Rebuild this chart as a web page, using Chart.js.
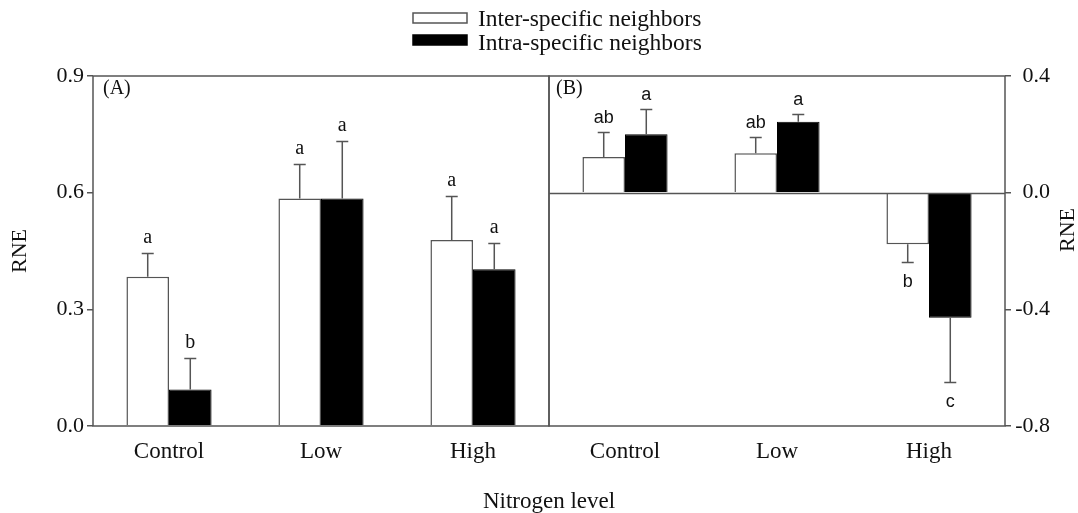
<!DOCTYPE html>
<html>
<head>
<meta charset="utf-8">
<title>RNE by nitrogen level</title>
<script src="https://cdn.jsdelivr.net/npm/chart.js@4.4.1/dist/chart.umd.min.js"></script>
<style>
  html, body { margin: 0; padding: 0; background: #fff; }
  #wrap { position: relative; width: 1078px; height: 513px; }
  #wrap canvas { position: absolute; left: 0; top: 0; }
</style>
</head>
<body>
<div id="wrap">
  <canvas id="chartA" width="1078" height="513"></canvas>
  <canvas id="chartB" width="1078" height="513"></canvas>
</div>
<script>
// --- Data ---
const categories = ['Control', 'Low', 'High'];
const seriesNames = ['Inter-specific neighbors', 'Intra-specific neighbors'];

// panel A
const interA = [0.384, 0.585, 0.478];
const interAErr = [0.061, 0.090, 0.113];
const intraA = [0.094, 0.585, 0.403];
const intraAErr = [0.080, 0.148, 0.067];
const interALetters = ['a', 'a', 'a'];
const intraALetters = ['b', 'a', 'a'];
const ticksA = [0, 0.3, 0.6, 0.9];

// panel B
const interB = [0.122, 0.135, -0.177];
const interBErr = [0.087, 0.057, 0.062];
const intraB = [0.200, 0.243, -0.429];
const intraBErr = [0.087, 0.027, 0.221];
const interBLetters = ['ab', 'ab', 'b'];
const intraBLetters = ['a', 'a', 'c'];
const ticksB = [-0.8, -0.4, 0, 0.4];

// --- Look ---
const SERIF = "'Liberation Serif', 'Times New Roman', serif";
const SANS = "'Liberation Sans', Arial, sans-serif";
const LINE = '#555';
const INK = '#111';
const W = 1078;
const MID = 549;      // shared border between the panels
const TOP = 76;
const XAXIS_H = 87;

// error bars, letters, frame, panel tag
const panelPlugin = {
  id: 'panel',
  afterDatasetsDraw(chart, args, opts) {
    const { ctx, chartArea: a, scales: { y } } = chart;
    ctx.save();
    ctx.strokeStyle = LINE;
    ctx.lineWidth = 1.5;

    if (opts.zeroLine) {
      const y0 = Math.round(y.getPixelForValue(0)) + 0.5;
      ctx.beginPath(); ctx.moveTo(a.left, y0); ctx.lineTo(a.right, y0); ctx.stroke();
    }

    chart.data.datasets.forEach((ds, i) => {
      chart.getDatasetMeta(i).data.forEach((bar, j) => {
        const v = ds.data[j];
        const end = v >= 0 ? v + ds.errors[j] : v - ds.errors[j];
        const y0 = y.getPixelForValue(v);
        const y1 = Math.round(y.getPixelForValue(end)) + 0.5;
        ctx.beginPath();
        ctx.moveTo(bar.x, y0); ctx.lineTo(bar.x, y1);
        ctx.moveTo(bar.x - 6, y1); ctx.lineTo(bar.x + 6, y1);
        ctx.stroke();

        ctx.fillStyle = INK;
        ctx.font = opts.letterFont;
        ctx.textAlign = 'center';
        ctx.textBaseline = 'alphabetic';
        ctx.fillText(ds.letters[j], bar.x, v >= 0 ? y1 - opts.gapAbove : y1 + opts.gapBelow);
      });
    });

    ctx.strokeRect(a.left, a.top, a.width, a.height);

    ctx.fillStyle = INK;
    ctx.font = `20px ${SERIF}`;
    ctx.textAlign = 'left';
    ctx.fillText(opts.tag, a.left + opts.tagDx, a.top + opts.tagDy);
    ctx.restore();
  }
};

// legend + shared x title, drawn once on panel A's canvas
const sharedPlugin = {
  id: 'shared',
  afterDraw(chart) {
    const { ctx } = chart;
    ctx.save();
    ctx.lineWidth = 1.5;
    chart.data.datasets.forEach((ds, i) => {
      const top = 13 + i * 22;
      ctx.fillStyle = ds.backgroundColor;
      ctx.strokeStyle = ds.borderColor;
      ctx.fillRect(413, top, 54, 10);
      ctx.strokeRect(413, top, 54, 10);
      ctx.fillStyle = INK;
      ctx.font = `23.5px ${SERIF}`;
      ctx.textAlign = 'left';
      ctx.textBaseline = 'alphabetic';
      ctx.fillText(ds.label, 478, 26 + i * 24);
    });
    ctx.font = `23px ${SERIF}`;
    ctx.textAlign = 'center';
    ctx.fillText('Nitrogen level', MID, 508);
    ctx.restore();
  }
};

// right-hand axis title, reading bottom to top like the left one
const rightTitlePlugin = {
  id: 'rightTitle',
  afterDraw(chart) {
    const { ctx } = chart;
    ctx.save();
    ctx.translate(1068, 230);
    ctx.rotate(-Math.PI / 2);
    ctx.fillStyle = INK;
    ctx.font = `22px ${SERIF}`;
    ctx.textAlign = 'center';
    ctx.textBaseline = 'middle';
    ctx.fillText('RNE', 0, 0);
    ctx.restore();
  }
};

function barSets(inter, interErr, interLet, intra, intraErr, intraLet) {
  return [
    { label: seriesNames[0], data: inter, errors: interErr, letters: interLet,
      backgroundColor: '#fff', borderColor: LINE, borderWidth: 1.5 },
    { label: seriesNames[1], data: intra, errors: intraErr, letters: intraLet,
      backgroundColor: '#000', borderColor: '#000', borderWidth: 1 }
  ];
}

function xScale() {
  return {
    grid: { display: false, drawTicks: false },
    border: { display: false },
    ticks: { color: INK, font: { family: SERIF, size: 23 }, padding: 12, maxRotation: 0 },
    afterFit: s => { s.height = XAXIS_H; }
  };
}

function yScale(min, max, tickValues, extra) {
  return Object.assign({
    min: min,
    max: max,
    afterBuildTicks: s => { s.ticks = tickValues.map(v => ({ value: v })); },
    ticks: { color: INK, font: { family: SERIF, size: 22 }, callback: v => Number(v).toFixed(1) },
    grid: { drawOnChartArea: false, drawTicks: true, tickLength: 6, color: LINE, lineWidth: 1.5 },
    border: { display: false }
  }, extra);
}

const common = {
  responsive: false,
  animation: false,
  events: [],
  datasets: { bar: { categoryPercentage: 0.56, barPercentage: 1 } }
};

// --- Panel A ---
new Chart(document.getElementById('chartA'), {
  type: 'bar',
  data: { labels: categories, datasets: barSets(interA, interAErr, interALetters, intraA, intraAErr, intraALetters) },
  options: Object.assign({}, common, {
    layout: { padding: { top: TOP, left: 0, right: W - MID, bottom: 0 } },
    plugins: {
      legend: { display: false },
      tooltip: { enabled: false },
      panel: { tag: '(A)', tagDx: 10, tagDy: 18, letterFont: `20px ${SERIF}`, gapAbove: 11, gapBelow: 22, zeroLine: false }
    },
    scales: {
      x: xScale(),
      y: yScale(0, 0.9, ticksA, {
        title: { display: true, text: 'RNE', color: INK, font: { family: SERIF, size: 22 }, padding: { top: 7, bottom: 0 } },
        afterFit: s => { s.width = 93; }
      })
    }
  }),
  plugins: [panelPlugin, sharedPlugin]
});

// --- Panel B ---
// right axis box ends at 1050 so the right-aligned tick labels end there
const yB = yScale(-0.8, 0.4, ticksB, {
  position: 'right',
  afterFit: s => { s.width = 45; }
});
yB.ticks.crossAlign = 'far';

new Chart(document.getElementById('chartB'), {
  type: 'bar',
  data: { labels: categories, datasets: barSets(interB, interBErr, interBLetters, intraB, intraBErr, intraBLetters) },
  options: Object.assign({}, common, {
    layout: { padding: { top: TOP, left: MID, right: 28, bottom: 0 } },
    plugins: {
      legend: { display: false },
      tooltip: { enabled: false },
      panel: { tag: '(B)', tagDx: 7, tagDy: 18, letterFont: `18px ${SANS}`, gapAbove: 10, gapBelow: 24, zeroLine: true }
    },
    scales: { x: xScale(), y: yB }
  }),
  plugins: [panelPlugin, rightTitlePlugin]
});
</script>
</body>
</html>
